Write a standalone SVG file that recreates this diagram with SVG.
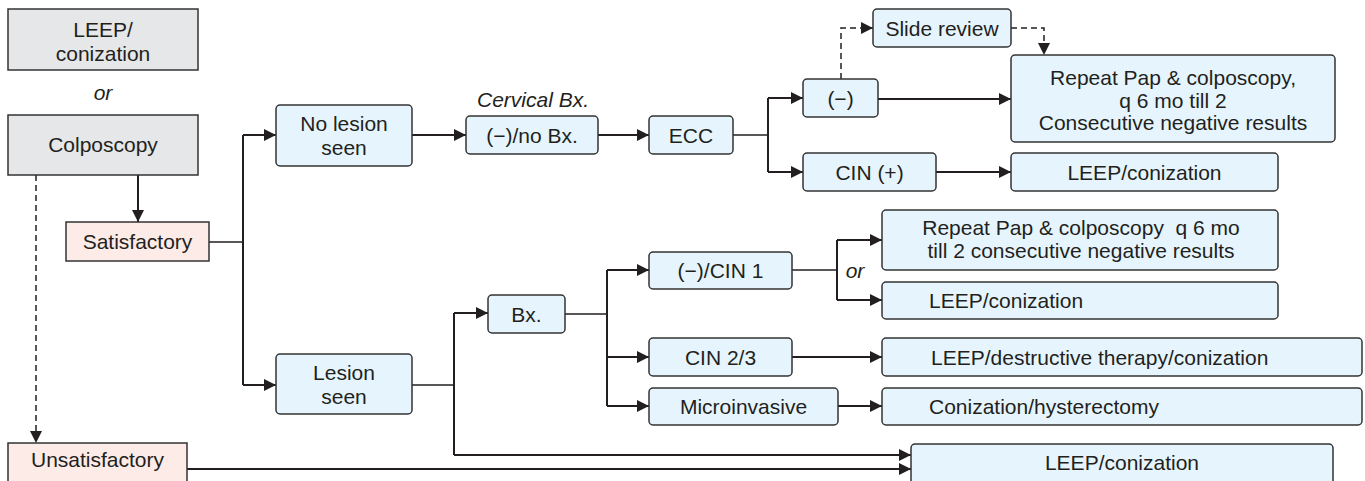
<svg xmlns="http://www.w3.org/2000/svg" width="1365" height="481" viewBox="0 0 1365 481">
<defs>
<marker id="ah" markerUnits="userSpaceOnUse" markerWidth="13" markerHeight="13" refX="12" refY="6" orient="auto">
<path d="M0,0 L12,6 L0,12 z" fill="#231f20"/>
</marker>
<style>
.b{fill:#e6f5fd;stroke:#333;stroke-width:1.5}
.g{fill:#e6e7e8;stroke:#333;stroke-width:1.5}
.p{fill:#fdebe8;stroke:#333;stroke-width:1.5}
text{font-family:"Liberation Sans",Arial,sans-serif;font-size:21px;fill:#231f20;text-anchor:middle}
.s{text-anchor:start}
.i{font-style:italic}
.a{fill:none;stroke:#231f20;stroke-width:2;marker-end:url(#ah)}
.l{fill:none;stroke:#231f20;stroke-width:2}
.t{fill:none;stroke:#231f20;stroke-width:1.3}
.d{fill:none;stroke:#231f20;stroke-width:1.5;stroke-dasharray:6,4;marker-end:url(#ah)}
</style>
</defs>
<g id="connectors">
<path class="a" d="M138,175 V222"/>
<path class="d" d="M36,175 V443"/>
<path class="t" d="M209,242 H243"/>
<path class="l" d="M243,135 V385"/>
<path class="a" d="M243,135 H276"/>
<path class="a" d="M243,385 H276"/>
<path class="a" d="M412,135 H466"/>
<path class="a" d="M598,135 H649"/>
<path class="t" d="M733,135 H768"/>
<path class="l" d="M768,98 V172"/>
<path class="a" d="M768,98 H803"/>
<path class="a" d="M768,172 H803"/>
<path class="a" d="M878,99 H1011"/>
<path class="a" d="M936,172 H1011"/>
<path class="d" d="M841,79 V28 H873"/>
<path class="d" d="M1011,28 H1044 V55"/>
<path class="t" d="M412,385 H454"/>
<path class="l" d="M454,313 V455"/>
<path class="a" d="M454,313 H488"/>
<path class="a" d="M454,455 H911"/>
<path class="t" d="M565,314 H607"/>
<path class="l" d="M607,270 V406"/>
<path class="a" d="M607,270 H649"/>
<path class="a" d="M607,357 H649"/>
<path class="a" d="M607,406 H649"/>
<path class="t" d="M792,270 H837"/>
<path class="l" d="M837,240 V300"/>
<path class="a" d="M837,240 H882"/>
<path class="a" d="M837,300 H882"/>
<path class="a" d="M792,357 H882"/>
<path class="a" d="M838,406 H882"/>
<path class="a" d="M187,469 H911"/>
</g>
<g id="leep-top"><rect class="g" x="8" y="9" width="190" height="61"/><text x="103" y="36.5">LEEP/</text><text x="103" y="60.5">conization</text></g>
<g id="or-1"><text class="i" x="103" y="100">or</text></g>
<g id="colposcopy"><rect class="g" x="8" y="115" width="190" height="60"/><text x="103" y="152">Colposcopy</text></g>
<g id="satisfactory"><rect class="p" x="66" y="222" width="143" height="39"/><text x="137.5" y="249">Satisfactory</text></g>
<g id="unsatisfactory"><rect class="p" x="8" y="443" width="179" height="45"/><text x="97.5" y="467">Unsatisfactory</text></g>
<g id="no-lesion"><rect class="b" x="276" y="105" width="136" height="61" rx="4"/><text x="344" y="131">No lesion</text><text x="344" y="155">seen</text></g>
<g id="lesion"><rect class="b" x="276" y="354" width="136" height="60" rx="4"/><text x="344" y="380">Lesion</text><text x="344" y="404">seen</text></g>
<g id="cervical-bx-label"><text class="i" x="533" y="107">Cervical Bx.</text></g>
<g id="neg-no-bx"><rect class="b" x="466" y="116" width="132" height="38" rx="4"/><text x="532" y="142.5">(−)/no Bx.</text></g>
<g id="ecc"><rect class="b" x="649" y="116" width="84" height="38" rx="4"/><text x="691" y="142.5">ECC</text></g>
<g id="neg"><rect class="b" x="803" y="79" width="75" height="38" rx="4"/><text x="840.5" y="105.5">(−)</text></g>
<g id="cin-pos"><rect class="b" x="803" y="153" width="133" height="38" rx="4"/><text x="869.5" y="179.5">CIN (+)</text></g>
<g id="slide-review"><rect class="b" x="873" y="9" width="138" height="38" rx="4"/><text x="942" y="35.5">Slide review</text></g>
<g id="repeat-1"><rect class="b" x="1011" y="55" width="324" height="87" rx="4"/><text x="1173" y="84.5">Repeat Pap &amp; colposcopy,</text><text x="1173" y="107.5">q 6 mo till 2</text><text x="1173" y="129.5">Consecutive negative results</text></g>
<g id="leep-1"><rect class="b" x="1011" y="153" width="267" height="38" rx="4"/><text x="1144.5" y="179.5">LEEP/conization</text></g>
<g id="bx"><rect class="b" x="488" y="295" width="77" height="38" rx="4"/><text x="526.5" y="321.5">Bx.</text></g>
<g id="neg-cin1"><rect class="b" x="649" y="252" width="143" height="37" rx="4"/><text x="720.5" y="278">(−)/CIN 1</text></g>
<g id="or-2"><text class="i" x="855" y="277.5">or</text></g>
<g id="cin23"><rect class="b" x="649" y="338" width="143" height="38" rx="4"/><text x="720.5" y="364.5">CIN 2/3</text></g>
<g id="micro"><rect class="b" x="649" y="388" width="189" height="37" rx="4"/><text x="743.5" y="414">Microinvasive</text></g>
<g id="repeat-2"><rect class="b" x="882" y="210" width="396" height="60" rx="4"/><text x="1081" y="234.5" xml:space="preserve">Repeat Pap &amp; colposcopy  q 6 mo</text><text x="1081" y="257.5">till 2 consecutive negative results</text></g>
<g id="leep-2"><rect class="b" x="882" y="282" width="396" height="37" rx="4"/><text class="s" x="929" y="308">LEEP/conization</text></g>
<g id="leep-destructive"><rect class="b" x="882" y="338" width="480" height="38" rx="4"/><text class="s" x="931" y="364.5">LEEP/destructive therapy/conization</text></g>
<g id="conization-hyst"><rect class="b" x="882" y="388" width="480" height="37" rx="4"/><text class="s" x="929" y="414">Conization/hysterectomy</text></g>
<g id="leep-final"><rect class="b" x="911" y="444" width="422" height="45" rx="4"/><text x="1122" y="470">LEEP/conization</text></g>
</svg>
